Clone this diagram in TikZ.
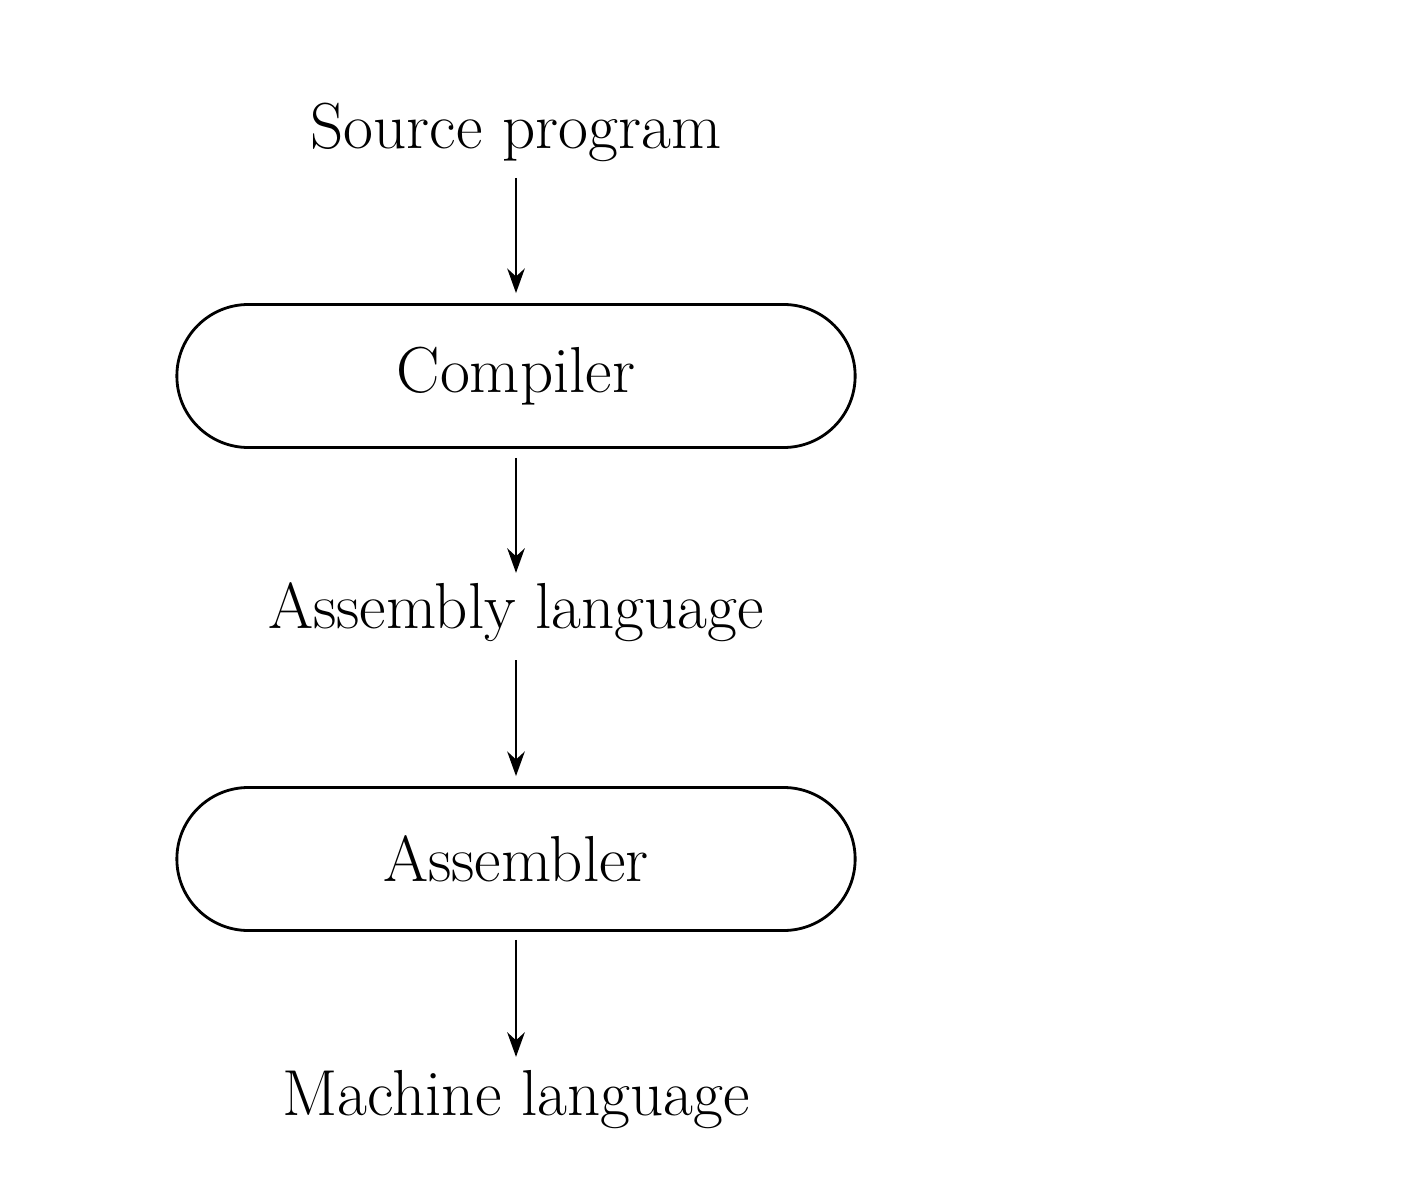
\documentclass[tikz,border=0pt]{standalone}
\usetikzlibrary{shapes.misc,arrows.meta}
\tikzset{
  stage/.style={rounded rectangle, draw, line width=1.6pt, minimum width=13.8cm, minimum height=2.86cm},
  label/.style={inner sep=0pt},
  flow/.style={-{Stealth[length=14pt,width=10pt]}, line width=1.4pt}
}
\begin{document}
\begin{tikzpicture}[font=\fontsize{37}{44}\selectfont]
  \useasboundingbox (0,0) rectangle (28.56,-24);

  \node[label] (src) at (10.32,-2.64) {Source program};
  \node[stage] (comp) at (10.32,-7.52) {Compiler};
  \node[label] (asm) at (10.32,-12.24) {Assembly language};
  \node[stage] (asmr) at (10.32,-17.18) {Assembler};
  \node[label] (mach) at (10.32,-22.0) {Machine language};

  % connectors between stages
  \draw[flow, shorten >=0.2cm] (10.32,-3.56) -- (comp.north);
  \draw[flow] (comp.south) ++(0,-0.18) -- ++(0,-2.3);
  \draw[flow, shorten >=0.2cm] (10.32,-13.2) -- (asmr.north);
  \draw[flow] (asmr.south) ++(0,-0.16) -- ++(0,-2.34);
\end{tikzpicture}
\end{document}
